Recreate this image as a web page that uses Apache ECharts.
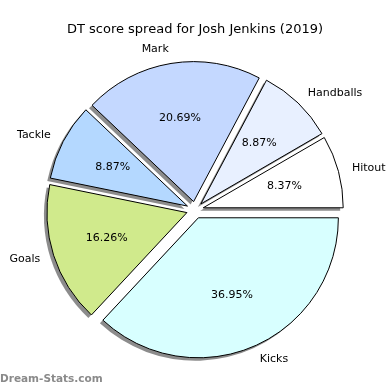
<!DOCTYPE html>
<html><head><meta charset="utf-8">
<script src="https://cdn.jsdelivr.net/npm/echarts@6/dist/echarts.min.js"></script>
<style>html,body{margin:0;padding:0;background:#fff}#c{width:390px;height:390px}</style>
</head><body><div id="c"></div>
<script>
const categories = ['Hitout', 'Handballs', 'Mark', 'Tackle', 'Goals', 'Kicks'];
const values = [8.37, 8.87, 20.69, 8.87, 16.26, 36.95];
const colors = ['#ffffff', '#e8f0ff', '#c4d8ff', '#b4d8ff', '#d0ea8c', '#d8ffff'];

const R = 140, OFF = 8.5, CX = 195, CY = 210;
const font = 'DejaVu Sans';
const base = {
  type: 'pie', radius: [0, R], startAngle: 0, clockwise: false,
  selectedMode: 'multiple', selectedOffset: OFF, avoidLabelOverlap: false,
  silent: true, emphasis: {disabled: true}, labelLine: {show: false}
};
const chart = echarts.init(document.getElementById('c'), null, {renderer: 'canvas'});
chart.setOption({
  animation: false,
  title: {text: 'DT score spread for Josh Jenkins (2019)', left: 'center', top: 18,
    textStyle: {fontFamily: font, fontSize: 13, fontWeight: 'normal', color: '#000'}},
  graphic: [{type: 'text', left: 0, top: 374,
    style: {text: 'Dream-Stats.com', fontFamily: font, fontSize: 10.5, fontWeight: 'bold', fill: '#8a8a8a'}}],
  series: [
  Object.assign({}, base, {
    center: [CX - 3, CY + 3], z: 1,
    itemStyle: {color: 'rgba(0,0,0,0.45)', borderWidth: 0},
    select: {itemStyle: {color: 'rgba(0,0,0,0.45)', borderWidth: 0}},
    label: {show: false},
    data: categories.map((c, i) => ({name: c, value: values[i], selected: true}))
  }),
  Object.assign({}, base, {
    center: [CX, CY], z: 2,
    itemStyle: {borderColor: '#000', borderWidth: 1},
    label: {show: true, position: 'outside', formatter: '{b}', fontFamily: font, fontSize: 11, color: '#000', distanceToLabelLine: 0},
    labelLine: {show: false, length: R * 0.1, length2: 0},
    select: {itemStyle: {borderColor: '#000', borderWidth: 1}, label: {show: true}},
    data: categories.map((c, i) => ({name: c, value: values[i], selected: true, itemStyle: {color: colors[i]}}))
  }),
  Object.assign({}, base, {
    center: [CX, CY], radius: [0, R * 1.16], z: 3,
    itemStyle: {color: 'rgba(0,0,0,0)', borderWidth: 0},
    label: {show: true, position: 'inside', formatter: p => values[p.dataIndex].toFixed(2) + '%', fontFamily: font, fontSize: 11, color: '#000'},
    select: {itemStyle: {color: 'rgba(0,0,0,0)', borderWidth: 0}},
    data: categories.map((c, i) => ({name: c, value: values[i], selected: true}))
  })]
});
</script></body></html>
